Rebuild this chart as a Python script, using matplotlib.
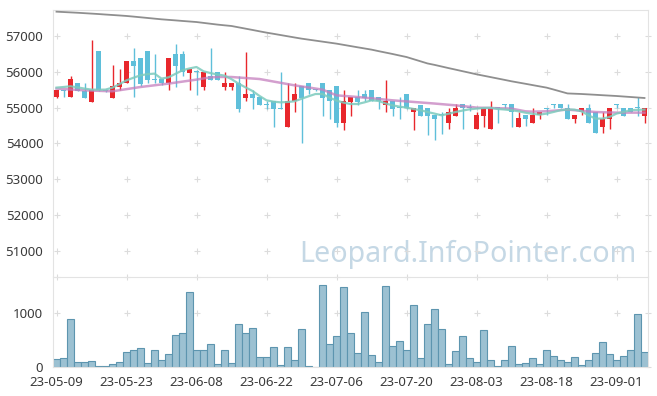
import matplotlib
matplotlib.use("Agg")
import matplotlib.pyplot as plt
import numpy as np

# ── data ───────────────────────────────────────────────────────────────────
tick_labels = ["23-05-09", "23-05-23", "23-06-08", "23-06-22", "23-07-06",
               "23-07-20", "23-08-03", "23-08-18", "23-09-01"]

opens = [55300, 55500, 55300, 55680, 55480, 55160, 56600, 55500, 55270, 55570,
         55680, 56300, 56380, 56600, 55800, 55800, 55680, 56500, 56500, 55960,
         56000, 55580, 55880, 56000, 55570, 55570, 55680, 55260, 55380, 55300,
         55080, 55180, 54980, 54460, 55180, 55600, 55680, 55500, 55680, 55490,
         55600, 54570, 55160, 55290, 55380, 55490, 55290, 55080, 55180, 55000,
         55380, 54880, 55080, 54990, 54790, 54800, 54580, 54770, 55090, 54990,
         54390, 54770, 54390, 54990, 55090, 55090, 54460, 54790, 54580, 54790,
         54980, 55090, 55090, 54990, 54680, 54880, 54990, 54880, 54460, 54690,
         55090, 54990, 54990, 54990, 54780]
highs = [55500, 55500, 55880, 55680, 55680, 56890, 56600, 55520, 56200, 56080,
         56300, 56680, 56400, 56600, 56500, 55800, 56400, 56780, 56600, 56080,
         56050, 56000, 56680, 56000, 56000, 55680, 55880, 56560, 55490, 55300,
         55180, 55180, 55990, 55680, 55680, 55600, 55680, 55520, 55680, 55490,
         55600, 55490, 55290, 55490, 55490, 55490, 55290, 55790, 55180, 55290,
         55380, 54990, 55080, 54990, 54790, 54880, 54980, 55090, 55090, 55090,
         54880, 54990, 55180, 54990, 55090, 55090, 54880, 54790, 54980, 54880,
         54990, 55090, 55090, 55090, 54790, 54980, 55090, 54880, 54880, 54990,
         55090, 54990, 54990, 55300, 54990]
lows = [55270, 55300, 55300, 55480, 55270, 55160, 55480, 55440, 55270, 55490,
        55680, 55300, 55600, 55700, 55680, 55650, 55490, 55590, 55880, 55490,
        55350, 55490, 55790, 55790, 55490, 55490, 54880, 55180, 54960, 55080,
        54960, 54460, 54960, 54460, 54880, 54000, 55380, 55460, 54770, 54680,
        54460, 54380, 54770, 55080, 55180, 55180, 54960, 54880, 54770, 54690,
        54960, 54380, 54770, 54230, 54090, 54270, 54390, 54770, 54390, 54900,
        54390, 54460, 54390, 54570, 55000, 54460, 54460, 54490, 54580, 54690,
        54790, 55000, 54980, 54680, 54580, 54790, 54580, 54280, 54280, 54390,
        55000, 54770, 54880, 54770, 54570]
closes = [55500, 55480, 55800, 55480, 55270, 55500, 55500, 55480, 55600, 55700,
          56300, 56170, 55660, 55790, 55790, 55680, 56380, 56160, 56000, 56080,
          55990, 56000, 55790, 55790, 55680, 55680, 54960, 55380, 55260, 55080,
          55070, 54960, 54960, 55180, 55380, 55260, 55490, 55490, 55260, 55180,
          54570, 55180, 55290, 55160, 55260, 55180, 55180, 55180, 54960, 54980,
          54980, 54990, 54770, 54770, 54680, 54790, 54880, 54990, 54980, 54980,
          54790, 54990, 54990, 54980, 55080, 54880, 54700, 54680, 54790, 54880,
          54970, 55080, 54980, 54680, 54790, 54980, 54580, 54280, 54690, 54990,
          55080, 54770, 54880, 54980, 54990]

ma_short = [55563, 55580, 55600, 55570, 55535, 55507, 55505, 55507, 55563, 55660,
            55767, 55840, 55907, 55940, 55955, 55815, 55850, 55950, 56048, 56100,
            56140, 56020, 55970, 55930, 55900, 55800, 55675, 55570, 55468, 55330,
            55207, 55170, 55150, 55160, 55180, 55250, 55320, 55384, 55384, 55283,
            55200, 55143, 55103, 55103, 55150, 55207, 55190, 55120, 55067, 55030,
            55003, 54965, 54930, 54880, 54835, 54787, 54830, 54880, 54920, 54955,
            54975, 54992, 55000, 54965, 54950, 54930, 54900, 54860, 54830, 54805,
            54835, 54880, 54930, 54950, 54947, 54900, 54787, 54695, 54695, 54740,
            54835, 54880, 54930, 54940, 54947]
ma_mid = [55535, 55523, 55511, 55499, 55487, 55480, 55473, 55466, 55460, 55490,
          55520, 55550, 55580, 55604, 55628, 55652, 55675, 55703, 55731, 55759,
          55787, 55820, 55850, 55860, 55862, 55860, 55846, 55832, 55818, 55804,
          55769, 55733, 55698, 55662, 55627, 55597, 55567, 55537, 55507, 55427,
          55347, 55331, 55316, 55300, 55281, 55263, 55244, 55226, 55207, 55192,
          55177, 55162, 55147, 55132, 55117, 55100, 55083, 55067, 55046, 55025,
          55003, 54997, 54992, 54986, 54981, 54975, 54937, 54899, 54890, 54895,
          54900, 54916, 54932, 54947, 54930, 54913, 54896, 54880, 54874, 54868,
          54862, 54862, 54862, 54862, 54862]
ma_long = [57690, 57680, 57670, 57660, 57648, 57636, 57624, 57610, 57597, 57584,
           57570, 57552, 57533, 57514, 57495, 57476, 57461, 57446, 57430, 57415,
           57400, 57376, 57352, 57328, 57308, 57289, 57252, 57215, 57178, 57140,
           57103, 57070, 57036, 57002, 56968, 56935, 56907, 56879, 56851, 56823,
           56795, 56761, 56727, 56693, 56660, 56627, 56585, 56545, 56505, 56462,
           56420, 56360, 56300, 56240, 56200, 56155, 56110, 56067, 56023, 55980,
           55936, 55897, 55858, 55819, 55780, 55740, 55705, 55670, 55634, 55598,
           55563, 55510, 55455, 55400, 55392, 55384, 55373, 55362, 55350, 55339,
           55328, 55314, 55300, 55286, 55272]

volumes = [143, 161, 888, 87, 87, 112, 12, 12, 50, 87,
           273, 311, 348, 68, 311, 124, 236, 590, 627, 1373,
           311, 311, 422, 50, 311, 68, 795, 627, 720, 180,
           180, 366, 31, 366, 124, 702, 12, 0, 1503, 422,
           571, 1466, 634, 261, 1019, 217, 87, 1484, 385, 478,
           317, 1149, 161, 795, 1075, 702, 50, 292, 571, 161,
           87, 683, 124, 25, 124, 385, 50, 68, 161, 50,
           311, 199, 124, 87, 180, 31, 124, 255, 460, 236,
           124, 199, 311, 981, 273]

UP = "#e8272c"
DOWN = "#5fbfda"
GRID = "#dcdcdc"
SPINE = "#e3e3e3"
TEXT = "#3a3a3a"

W, H = 657, 396
fig = plt.figure(figsize=(W / 100, H / 100), dpi=100)
ax = fig.add_axes([53 / W, 1 - 276 / H, 595 / W, 266 / H])
axv = fig.add_axes([53 / W, 1 - 367 / H, 595 / W, 90 / H])

x = np.arange(len(closes))
o = np.array(opens, float)
c = np.array(closes, float)
hi = np.array(highs, float)
lo = np.array(lows, float)
up = c > o
colors = np.where(up, UP, DOWN)

# ── price panel ────────────────────────────────────────────────────────────
ax.vlines(x, lo, hi, colors=colors, linewidth=1.0, zorder=2)
body_lo = np.minimum(o, c)
body_h = np.maximum(np.abs(c - o), 28)
ax.bar(x, body_h, 0.68, bottom=body_lo, color=colors, linewidth=0, zorder=3)

ax.plot(x, ma_long, color="#8f8f8f", linewidth=1.3, zorder=4)
ax.plot(x, ma_mid, color="#c57fbe", linewidth=1.8, alpha=0.75, zorder=4)
ax.plot(x, ma_short, color="#7dcbbd", linewidth=1.6, alpha=0.85, zorder=5)

xticks = np.arange(0, len(closes), 10)
yticks = np.arange(51000, 57001, 1000)
ax.set_xlim(-0.5, len(closes) - 0.5)
ax.set_ylim(50286, 57737)
ax.set_yticks(yticks)
ax.set_xticks(xticks)
gx, gy = np.meshgrid(xticks, yticks)
ax.scatter(gx.ravel(), gy.ravel(), marker="+", s=14, color=GRID,
           linewidths=0.8, zorder=1)

ax.tick_params(axis="x", bottom=False, labelbottom=False)
ax.tick_params(axis="y", left=False, right=True, direction="inout", length=4,
               color=GRID, labelsize=9.5, labelcolor=TEXT, pad=5)
for s in ["top", "left", "right"]:
    ax.spines[s].set_color(SPINE)
ax.spines["bottom"].set_visible(False)
for lbl in ax.get_yticklabels():
    lbl.set_fontfamily("Noto Sans")

wm = ax.text(0.9815, 0.0526, "Leopard.InfoPointer.com", transform=ax.transAxes,
             ha="right", va="baseline", fontsize=22, color="#c5d8e5",
             family="Noto Sans", zorder=0)
fig.canvas.draw()
bb = wm.get_window_extent()
wm.set_fontsize(22 * 337 / bb.width)

# ── volume panel ───────────────────────────────────────────────────────────
axv.bar(x, volumes, 1.0, color="#9cc1d2", edgecolor="#5d95af", linewidth=0.8,
        zorder=2)
axv.set_xlim(-0.5, len(closes) - 0.5)
axv.set_ylim(0, 1657)
axv.set_yticks([0, 1000])
axv.set_xticks(xticks)
axv.set_xticklabels(tick_labels)
vx, vy = np.meshgrid(xticks, [1000, 1657])
axv.scatter(vx.ravel(), vy.ravel(), marker="+", s=14, color=GRID,
            linewidths=0.8, zorder=1, clip_on=False)
axv.tick_params(axis="x", bottom=False, labelsize=9.5, labelcolor=TEXT, pad=3)
axv.tick_params(axis="y", left=False, right=True, direction="inout", length=4,
                color=GRID, labelsize=9.5, labelcolor=TEXT, pad=5)
for s in ["top", "left", "right", "bottom"]:
    axv.spines[s].set_color(SPINE)
for lbl in axv.get_xticklabels() + axv.get_yticklabels():
    lbl.set_fontfamily("Noto Sans")

fig.savefig("out.png", dpi=100)
